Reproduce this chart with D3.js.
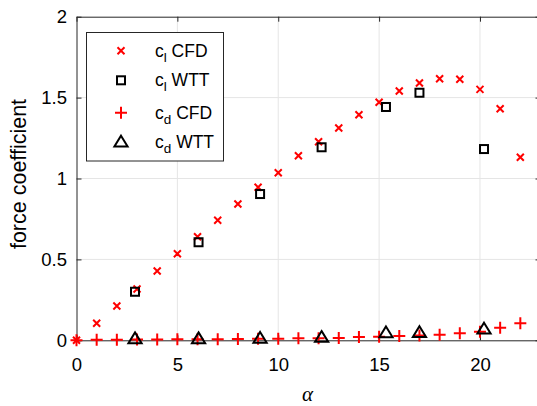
<!DOCTYPE html>
<html><head><meta charset="utf-8">
<script src="https://cdn.jsdelivr.net/npm/d3@7"></script>
<style>body{margin:0;background:#fff}svg{display:block}</style>
</head><body>
<svg id="c" width="537" height="406"></svg>
<script>
const alphaCFD = [0,1,2,3,4,5,6,7,8,9,10,11,12,13,14,15,16,17,18,19,20,21,22];
const clCFD = [0,0.105,0.212,0.317,0.428,0.535,0.64,0.742,0.842,0.946,1.036,1.141,1.227,1.312,1.394,1.471,1.541,1.59,1.617,1.613,1.551,1.431,1.131];
const cdCFD = [0,0.003,0.004,0.005,0.005,0.006,0.006,0.007,0.008,0.009,0.01,0.012,0.012,0.014,0.02,0.022,0.026,0.03,0.035,0.043,0.053,0.078,0.105];
const alphaWTT = [2.9,6.05,9.1,12.15,15.34,17.0,20.2];
const clWTT = [0.30,0.606,0.904,1.193,1.442,1.53,1.182];
const cdWTT = [0.012,0.012,0.014,0.02,0.048,0.05,0.072];
const xTicks = [0,5,10,15,20];
const yTicks = [0,0.5,1,1.5,2];

const svg = d3.select("#c");
const L=76.5, R=540.5, T=16.7, B=340.3;
const x = d3.scaleLinear().domain([0,23]).range([L,R]);
const y = d3.scaleLinear().domain([0,2]).range([B,T]);
const axisCol="#262626", font="'Liberation Sans', Arial, sans-serif";

// grid
const g = svg.append("g");
g.selectAll(".gx").data(xTicks.filter(d=>d>0)).enter().append("line")
 .attr("x1",d=>x(d)).attr("x2",d=>x(d)).attr("y1",T).attr("y2",B)
 .attr("stroke","#e5e5e5").attr("stroke-width",1);
g.selectAll(".gy").data(yTicks.filter(d=>d>0&&d<2)).enter().append("line")
 .attr("x1",L).attr("x2",R).attr("y1",d=>y(d)).attr("y2",d=>y(d))
 .attr("stroke","#e5e5e5").attr("stroke-width",1);

// axes
const ax = d3.axisBottom(x).tickValues(xTicks).tickSizeInner(-5).tickSizeOuter(0).tickPadding(0);
const axB = svg.append("g").attr("transform",`translate(0,${B})`).call(ax);
const ay = d3.axisLeft(y).tickValues(yTicks).tickFormat(d3.format("")).tickSizeInner(-5).tickSizeOuter(0).tickPadding(9.5);
const axL = svg.append("g").attr("transform",`translate(${L},0)`).call(ay);
const axT = svg.append("g").attr("transform",`translate(0,${T})`).call(d3.axisTop(x).tickValues(xTicks).tickSizeInner(-5).tickSizeOuter(0).tickFormat(""));
const axR = svg.append("g").attr("transform",`translate(${R},0)`).call(d3.axisRight(y).tickValues(yTicks).tickSizeInner(-5).tickSizeOuter(0).tickFormat(""));
[axB,axL,axT,axR].forEach(a=>{
  a.select(".domain").attr("stroke",axisCol).attr("stroke-width",1);
  a.selectAll(".tick line").attr("stroke",axisCol);
  a.selectAll("text").attr("fill","#000").style("font-family",font).style("font-size","18.5px");
});
axB.selectAll("text").attr("y",30.5).attr("dy",null);

// labels
svg.append("text").attr("x",307.5).attr("y",401).attr("text-anchor","middle")
 .style("font-family","'Liberation Serif','DejaVu Serif',serif").style("font-style","italic").style("font-size","21px").text("α");
svg.append("text").attr("transform","translate(26,174) rotate(-90)").attr("text-anchor","middle")
 .style("font-family",font).style("font-size","21.5px").text("force coefficient");

// marker helpers
function xMark(sel,s){ sel.append("path").attr("d",`M${-s},${-s}L${s},${s}M${-s},${s}L${s},${-s}`).attr("stroke","#ff0000").attr("stroke-width",2).attr("fill","none"); }
function plusMark(sel,s){ sel.append("path").attr("d",`M${-s},0L${s},0M0,${-s}L0,${s}`).attr("stroke","#ff0000").attr("stroke-width",2).attr("fill","none"); }
function sqMark(sel,s){ sel.append("rect").attr("x",-s).attr("y",-s).attr("width",2*s).attr("height",2*s).attr("stroke","#000").attr("stroke-width",2).attr("fill","none"); }
function triMark(sel,s){ sel.append("path").attr("d",`M0,${-s}L${s*1.1},${s*0.8}L${-s*1.1},${s*0.8}Z`).attr("stroke","#000").attr("stroke-width",2).attr("fill","none").attr("stroke-linejoin","miter"); }

const pts = svg.append("g");
alphaCFD.forEach((a,i)=>{ pts.append("g").attr("transform",`translate(${x(a)},${y(clCFD[i])})`).call(xMark,3.5); });
alphaWTT.forEach((a,i)=>{ pts.append("g").attr("transform",`translate(${x(a)},${y(clWTT[i])})`).call(sqMark,4); });
alphaCFD.forEach((a,i)=>{ pts.append("g").attr("transform",`translate(${x(a)},${y(cdCFD[i])})`).call(plusMark,6); });
alphaWTT.forEach((a,i)=>{ pts.append("g").attr("transform",`translate(${x(a)},${y(cdWTT[i])})`).call(triMark,6); });

// legend
const leg = svg.append("g");
leg.append("rect").attr("x",86.5).attr("y",32.5).attr("width",137).attr("height",128.5).attr("fill","#fff").attr("stroke",axisCol).attr("stroke-width",1);
const items = [{m:xMark,s:3.5,sub:"l",t:" CFD"},{m:sqMark,s:4,sub:"l",t:" WTT"},{m:plusMark,s:6,sub:"d",t:" CFD"},{m:triMark,s:6,sub:"d",t:" WTT"}];
const rowsY=[50.7,80.3,112.7,141.7];
items.forEach((it,i)=>{
  leg.append("g").attr("transform",`translate(121,${rowsY[i]})`).call(it.m,it.s);
  const t = leg.append("text").attr("x",155).attr("y",rowsY[i]+6).style("font-family",font).style("font-size","17.5px");
  t.append("tspan").text("c");
  t.append("tspan").attr("dy",5).style("font-size","13.5px").text(it.sub);
  t.append("tspan").attr("dy",-5).text(it.t);
});
</script>
</body></html>
